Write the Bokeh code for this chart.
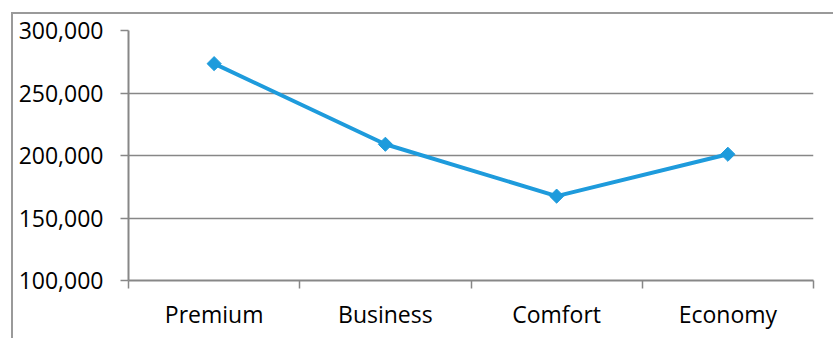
import math
from bokeh.plotting import figure
from bokeh.models import Range1d, FixedTicker, NumeralTickFormatter, ColumnDataSource
from bokeh.embed import file_html
from bokeh.resources import INLINE

categories = ["Premium", "Business", "Comfort", "Economy"]
values = [273500, 209000, 167500, 201000]
y_ticks = [100000, 150000, 200000, 250000, 300000]

FONT = "Open Sans"
GREY = "#878787"
BLUE = "#1E9BDC"

xs = [i + 0.5 for i in range(len(categories))]
src = ColumnDataSource(data=dict(x=xs, y=values, cat=categories))

p = figure(width=833, height=338, output_backend="svg", toolbar_location=None,
           x_range=Range1d(0, len(categories)), y_range=Range1d(y_ticks[0], y_ticks[-1]),
           min_border_left=128, min_border_right=20, min_border_top=30, min_border_bottom=58)
p.outline_line_color = None
p.background_fill_color = "white"
p.border_fill_color = "white"

# outer chart-area border (drawn with CSS, outside the plot frame)
p.stylesheets = [
    ":host { position: relative; }"
    ":host::after { content: ''; position: absolute; left: 11px; top: 12px; right: 0px; bottom: 0px;"
    " border-left: 2px solid #9a9a9a; border-top: 2px solid #9a9a9a; pointer-events: none; z-index: 5; }"
]

# x axis: labels at category centers, ticks at boundaries (minor ticks)
p.xaxis.ticker = FixedTicker(ticks=xs, minor_ticks=list(range(len(categories) + 1)))
p.xaxis.major_label_overrides = {x: c for x, c in zip(xs, categories)}
p.xaxis.major_tick_line_color = None
p.xaxis.major_tick_out = 0
p.xaxis.major_tick_in = 0
p.xaxis.minor_tick_line_color = GREY
p.xaxis.minor_tick_line_width = 1.5
p.xaxis.minor_tick_out = 8
p.xaxis.minor_tick_in = 0
p.xaxis.axis_line_color = GREY
p.xaxis.axis_line_width = 2
p.xaxis.major_label_standoff = 9
p.xaxis.major_label_text_font = FONT
p.xaxis.major_label_text_font_size = "23px"
p.xaxis.major_label_text_color = "black"
p.xgrid.grid_line_color = None

p.yaxis.ticker = FixedTicker(ticks=y_ticks, minor_ticks=[])
p.yaxis.formatter = NumeralTickFormatter(format="0,0")
p.yaxis.axis_line_color = GREY
p.yaxis.axis_line_width = 2
p.yaxis.major_tick_line_color = GREY
p.yaxis.major_tick_line_width = 1.5
p.yaxis.major_tick_out = 8
p.yaxis.major_tick_in = 0
p.yaxis.minor_tick_line_color = None
p.yaxis.major_label_standoff = 17
p.yaxis.major_label_text_font = FONT
p.yaxis.major_label_text_font_size = "23px"
p.yaxis.major_label_text_color = "black"
p.ygrid.grid_line_color = GREY
p.ygrid.grid_line_width = 1.5

p.line("x", "y", source=src, line_width=4, line_color=BLUE)
p.scatter("x", "y", source=src, marker="square", angle=math.pi / 4, size=10,
          fill_color=BLUE, line_color=BLUE)

open("out.html", "w").write(file_html(p, INLINE))
